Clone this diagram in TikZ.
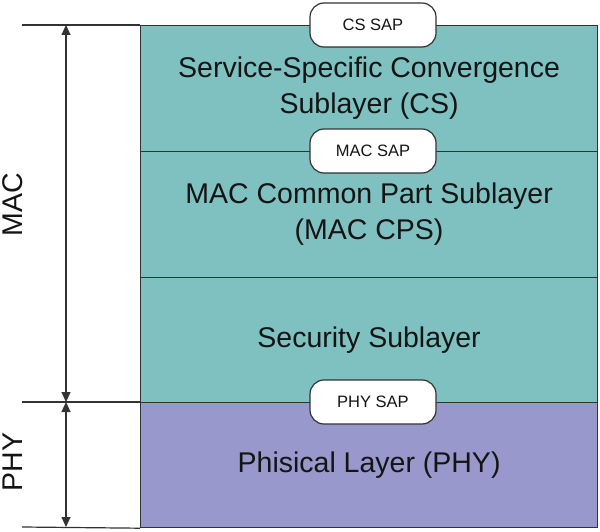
\documentclass[tikz,border=0pt]{standalone}
\usepackage{fontspec}
\setmainfont{Liberation Sans}
\usetikzlibrary{arrows.meta}

\definecolor{layerteal}{RGB}{127,193,193}
\definecolor{layerpurple}{RGB}{152,152,204}
\definecolor{linegray}{RGB}{50,50,50}

\tikzset{
  layer/.style={draw=linegray, line width=1.2pt, anchor=north west, inner sep=0pt,
    minimum width=457pt, align=center, text=black!92,
    font=\fontsize{28.5}{36}\selectfont},
  sap/.style={draw=linegray, fill=white, line width=1.2pt, rounded corners=14pt,
    minimum width=126pt, minimum height=44pt, inner sep=0pt, text=black!92,
    font=\fontsize{16.5}{18}\selectfont},
  side/.style={rotate=90, text=black!92, font=\fontsize{28.5}{30}\selectfont},
  rule/.style={draw=linegray, line width=1.2pt},
  span/.style={draw=linegray, line width=1.2pt, {Triangle[length=10pt,width=9pt]}-{Triangle[length=10pt,width=9pt]}}
}

\begin{document}
\begin{tikzpicture}[x=1pt,y=-1pt]

\path[fill=white, use as bounding box] (0,0) rectangle (600,532);

% Couches
\node[layer, fill=layerteal, minimum height=126pt] (cs) at (140,25)
  {Service-Specific Convergence\\Sublayer (CS)};
\node[layer, fill=layerteal, minimum height=126pt] (cps) at (140,151)
  {MAC Common Part Sublayer\\(MAC CPS)};
\node[layer, fill=layerteal, minimum height=125pt] (sec) at (140,277)
  {Security Sublayer};
\node[layer, fill=layerpurple, minimum height=125pt] (phy) at (140,402)
  {Phisical Layer (PHY)};

% Points d'accès
\node[sap] (cssap) at (373,25) {CS SAP};
\node[sap] (macsap) at (373,151) {MAC SAP};
\node[sap] (physap) at (373,402) {PHY SAP};

% Repères à gauche
\coordinate (macTop) at (22,25);
\coordinate (phyTop) at (22,402);
\coordinate (phyBot) at (22,527);
\draw[rule] (macTop) -- (cs.north west);
\draw[rule] (phyTop) -- (phy.north west);
\draw[rule] (phyBot) -- (phy.south west);

% Flèches d'étendue
\coordinate (spanTop) at (66,25);
\coordinate (spanMid) at (66,402);
\coordinate (spanBot) at (66,527);
\draw[span] (spanTop) -- (spanMid);
\draw[span] (spanMid) -- (spanBot);

\node[side] (maclabel) at (13,205) {MAC};
\node[side] (phylabel) at (13,462) {PHY};

\end{tikzpicture}
\end{document}
